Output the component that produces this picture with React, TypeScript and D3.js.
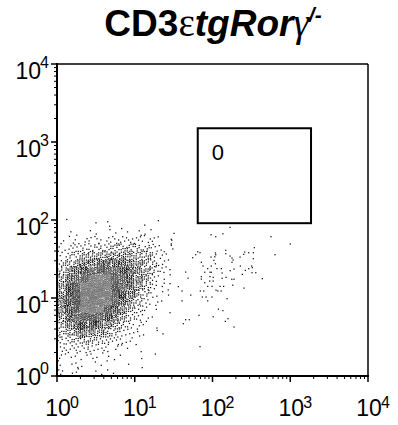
import React, { useMemo } from 'react';
import * as d3 from 'd3';

const W = 398;
const H = 425;
const plot = { left: 57, right: 368, top: 64, bottom: 376 };

const axisDomain = [1, 10000];
const majorTicks = [1, 10, 100, 1000, 10000];
const majorExponents = ['0', '1', '2', '3', '4'];

// Event counts per 0.1-decade cell of the main population.
// Rows run from y = 10^2.0–10^2.1 (top) down to 10^0–10^0.1; columns start at x = 10^0.
const cellStep = 0.1;
const densityRows = [
  [0, 1, 0, 0, 0, 0, 0, 0, 0, 0, 0, 0, 0, 0, 0],
  [0, 0, 0, 0, 0, 1, 2, 0, 0, 0, 0, 1, 0, 1, 0],
  [0, 1, 1, 0, 1, 1, 1, 1, 1, 1, 2, 1, 1, 0, 0],
  [1, 1, 2, 2, 3, 3, 3, 4, 4, 4, 4, 3, 2, 1, 1],
  [2, 3, 4, 5, 6, 6, 7, 8, 8, 8, 7, 6, 4, 2, 1],
  [3, 6, 8, 10, 11, 12, 13, 14, 14, 13, 11, 9, 6, 3, 1],
  [6, 10, 14, 17, 20, 22, 23, 23, 21, 18, 15, 11, 7, 3, 1],
  [9, 15, 21, 27, 32, 34, 34, 32, 28, 23, 17, 12, 7, 3, 1],
  [12, 21, 30, 38, 44, 46, 44, 39, 32, 24, 17, 10, 5, 2, 1],
  [15, 26, 38, 48, 54, 54, 49, 42, 32, 22, 14, 8, 4, 2, 1],
  [17, 29, 43, 54, 60, 57, 50, 40, 29, 19, 11, 6, 3, 1, 1],
  [17, 29, 43, 52, 57, 53, 45, 35, 23, 14, 8, 4, 2, 1, 0],
  [16, 27, 39, 46, 49, 45, 36, 26, 17, 10, 6, 3, 1, 0, 1],
  [14, 23, 32, 37, 38, 34, 27, 19, 12, 7, 4, 2, 1, 0, 0],
  [11, 17, 23, 27, 27, 23, 17, 12, 7, 4, 3, 1, 1, 0, 0],
  [8, 11, 15, 17, 17, 14, 10, 7, 4, 3, 2, 1, 1, 1, 0],
  [5, 7, 8, 9, 8, 7, 5, 4, 3, 2, 1, 0, 0, 0, 0],
  [3, 4, 4, 4, 4, 3, 3, 2, 1, 1, 1, 0, 0, 0, 0],
  [2, 2, 2, 2, 2, 2, 1, 1, 1, 0, 1, 0, 1, 0, 0],
  [2, 1, 2, 1, 1, 1, 1, 0, 0, 1, 1, 0, 0, 0, 0],
  [3, 1, 2, 1, 1, 1, 1, 1, 0, 0, 0, 0, 0, 0, 0],
];

// Individual events to the right of the main population.
const outlierX = [
  168, 32, 95.7, 110, 136, 565, 29.5, 29.5, 29.5, 1000, 345, 64.5, 69, 60.8, 109, 110, 148, 148, 259, 292,
  335, 637, 55.6, 95.7, 107, 168, 178, 226, 252, 335, 104, 184, 71.8, 109, 178, 75.5, 96.5, 228, 319, 325,
  292, 28.4, 86.7, 114, 130, 169, 189, 264, 45.2, 79.4, 92.9, 96.5, 133, 242, 322, 360, 71.8, 92.9, 102, 133,
  149, 177, 189, 48.4, 71.8, 437, 102, 92, 79.4, 28.4, 36.3, 86.7, 98.5, 125, 139, 182, 254, 69.7, 77.1, 111,
  117, 129, 40.5, 52.5, 73.9, 82.5, 98.5, 154, 86.7, 40.5, 119, 136, 67, 102, 158, 146, 45.2, 50.3, 42.1, 189,
  69,
];
const outlierY = [
  80.5, 67.5, 64.8, 61.1, 66.7, 61.1, 56.6, 49.3, 47.4, 49.3, 44.2, 39.2, 38.1, 35.9, 37.8, 35.9, 40.9, 37, 38.9, 38.1,
  38.1, 35.9, 32.9, 33.5, 33.8, 34.5, 32.6, 33.5, 36.3, 31.9, 30.4, 30.7, 28.7, 27.5, 28.7, 25.7, 25.7, 25.7, 25.7, 24.5,
  23.8, 23.1, 23.8, 23.8, 23.8, 22.4, 23.5, 22.6, 21.5, 21.4, 21.4, 21.4, 20.9, 20.1, 21.1, 21.1, 18.8, 18.8, 18.4, 17.9,
  18.4, 17.4, 17.4, 18, 17.5, 17.7, 16.5, 16.5, 15.7, 15.3, 14, 14.1, 14.1, 14.1, 14.1, 14.6, 13.4, 12.3, 12.3, 12.6,
  12.3, 12.3, 12.3, 10.9, 10.3, 10.3, 10.3, 9.8, 9.2, 9.2, 7.2, 6.9, 6, 5.75, 5.43, 5.02, 5.27, 5.27, 4.69, 4.25,
  2.38,
];

// Events piled on the lower bound of the x channel.
const axisPileY = [1.05, 1.25, 1.7, 2.1, 2.4, 3.1, 3.3, 4.0, 4.7, 5.1, 5.9, 6.4, 7.2, 7.7, 8.6, 9.3, 10.4, 11.2, 12.6, 14.8, 17.1];

const gateX = [64.6, 1850];
const gateY = [91, 1500];
const gatePercent = '0';

const FONT = 'Arial, "Liberation Sans", sans-serif';

// Crowded cells render lighter so the core keeps its speckled look.
const dotColor = (n: number) => (n >= 44 ? '#777' : n >= 30 ? '#444' : '#111');

export default function App() {
  const x = d3.scaleLog().domain(axisDomain).range([plot.left, plot.right]);
  const y = d3.scaleLog().domain(axisDomain).range([plot.bottom, plot.top]);
  const minorTicks = x.ticks().filter((t) => !majorTicks.includes(t));

  const events = useMemo(() => {
    const pts: { x: number; y: number; n: number }[] = [];
    let g = 0;
    const nRows = densityRows.length;
    densityRows.forEach((row, ri) => {
      const yLo = (nRows - 1 - ri) * cellStep;
      row.forEach((n, ci) => {
        const xLo = ci * cellStep;
        for (let k = 0; k < n; k++) {
          g += 1;
          const u = (0.5 + g * 0.7548776662) % 1;
          const v = (0.5 + g * 0.569840291) % 1;
          pts.push({ x: 10 ** (xLo + u * cellStep), y: 10 ** (yLo + v * cellStep), n });
        }
      });
    });
    outlierX.forEach((vx, i) => pts.push({ x: vx, y: outlierY[i], n: 1 }));
    axisPileY.forEach((vy) => pts.push({ x: 1, y: vy, n: 1 }));
    return pts;
  }, []);

  return (
    <svg width={W} height={H} style={{ position: 'absolute', left: 0, top: 0, background: '#fff' }} fontFamily={FONT}>
      <text x={213} y={36} textAnchor="middle" fontSize={37}>
        <tspan fontWeight="bold">CD3</tspan>
        <tspan fontFamily='"Liberation Serif", serif' fontSize={39}>ε</tspan>
        <tspan fontWeight="bold" fontStyle="italic">tgRor</tspan>
        <tspan fontFamily='"Liberation Serif", serif' fontStyle="italic" fontSize={39}>γ</tspan>
        <tspan fontWeight="bold" fontStyle="italic" fontSize={21} dy={-14}>/-</tspan>
      </text>

      <g>
        {events.map((p, i) => (
          <rect
            key={i}
            x={x(p.x) - 0.6}
            y={y(p.y) - 0.6}
            width={1.25}
            height={1.25}
            fill={dotColor(p.n)}
          />
        ))}
      </g>

      <rect
        x={x(gateX[0])}
        y={y(gateY[1])}
        width={x(gateX[1]) - x(gateX[0])}
        height={y(gateY[0]) - y(gateY[1])}
        fill="none"
        stroke="#000"
        strokeWidth={2}
      />
      <text x={x(gateX[0]) + 14} y={y(gateY[1]) + 32} fontSize={22}>
        {gatePercent}
      </text>

      {/* frame */}
      <line x1={plot.left} x2={plot.right} y1={plot.top} y2={plot.top} stroke="#000" strokeWidth={1.5} />
      <line x1={plot.right} x2={plot.right} y1={plot.top} y2={plot.bottom} stroke="#000" strokeWidth={1.5} />
      <line x1={plot.left} x2={plot.left} y1={plot.top - 1} y2={plot.bottom + 1} stroke="#000" strokeWidth={2} />
      <line x1={plot.left - 1} x2={plot.right + 1} y1={plot.bottom} y2={plot.bottom} stroke="#000" strokeWidth={2} />

      {/* x axis ticks */}
      {majorTicks.map((t) => (
        <line key={'xM' + t} x1={x(t)} x2={x(t)} y1={plot.bottom} y2={plot.bottom + 6} stroke="#000" strokeWidth={1.5} />
      ))}
      {minorTicks.map((t) => (
        <line key={'xm' + t} x1={x(t)} x2={x(t)} y1={plot.bottom} y2={plot.bottom + 3} stroke="#000" strokeWidth={1} />
      ))}
      {/* y axis ticks */}
      {majorTicks.map((t) => (
        <line key={'yM' + t} x1={plot.left - 6} x2={plot.left} y1={y(t)} y2={y(t)} stroke="#000" strokeWidth={1.5} />
      ))}
      {minorTicks.map((t) => (
        <line key={'ym' + t} x1={plot.left - 3} x2={plot.left} y1={y(t)} y2={y(t)} stroke="#000" strokeWidth={1} />
      ))}

      {/* x tick labels */}
      {majorTicks.map((t, i) => (
        <g key={'xl' + t}>
          <text x={x(t) + 1} y={416} textAnchor="middle" fontSize={23}>10</text>
          <text x={x(t) + 13} y={408} fontSize={16}>{majorExponents[i]}</text>
        </g>
      ))}
      {/* y tick labels */}
      {majorTicks.map((t, i) => {
        const base = i === 0 ? y(t) + 9 : y(t) + 15;
        return (
          <g key={'yl' + t}>
            <text x={41} y={base} textAnchor="end" fontSize={23}>10</text>
            <text x={40} y={base - 11} fontSize={16}>{majorExponents[i]}</text>
          </g>
        );
      })}
    </svg>
  );
}
